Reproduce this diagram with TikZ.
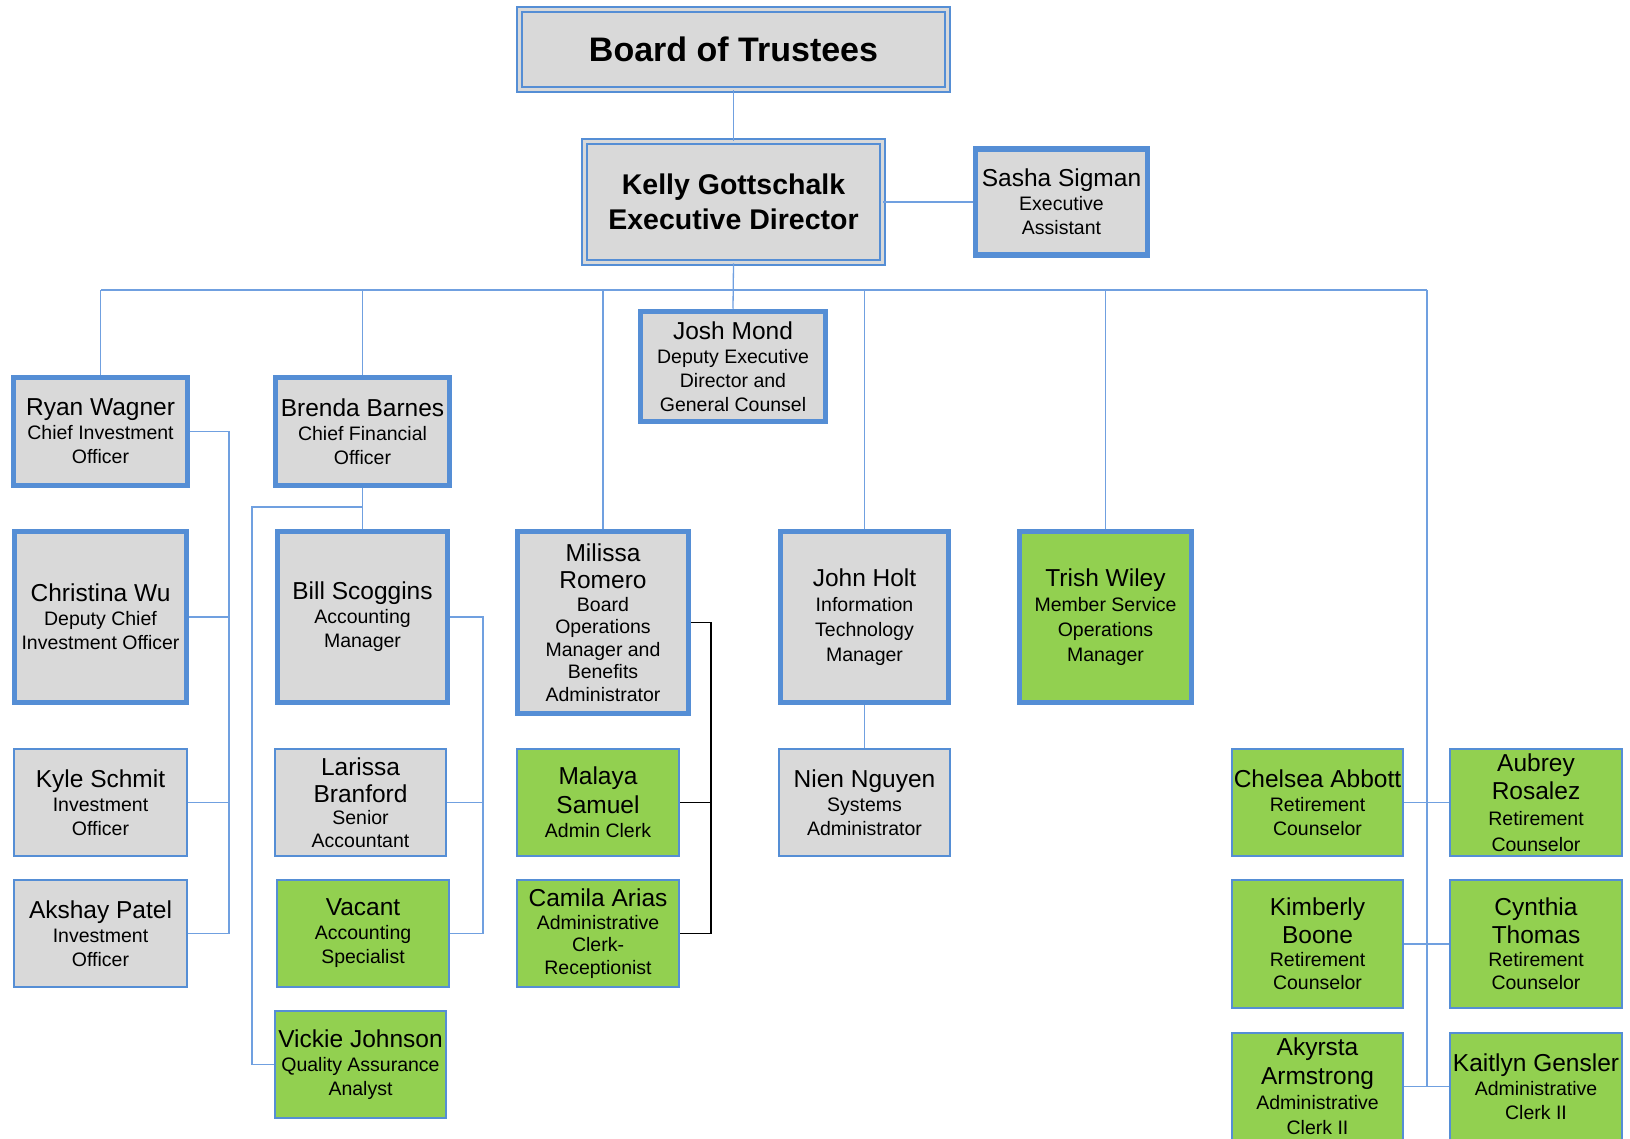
\documentclass[tikz,border=0pt]{standalone}
\usepackage{fontspec}
\setmainfont{Liberation Sans}
\usepackage{tikz}

\definecolor{boxblue}{RGB}{85,142,213}
\definecolor{lineblue}{RGB}{112,160,224}
\definecolor{boxgray}{RGB}{217,217,217}
\definecolor{boxgreen}{RGB}{146,208,80}

\newcommand{\nm}[1]{{\fontsize{24.5}{24}\selectfont #1}}

\tikzset{
  card/.style={draw=boxblue, fill=boxgray, line width=2pt, align=center, inner sep=0pt,
    font=\fontsize{19.5}{24}\selectfont},
  leadbox/.style={card, line width=5.5pt},
  greencard/.style={card, fill=boxgreen},
  greenlead/.style={leadbox, fill=boxgreen},
  headbox/.style={card, double=boxgray, double distance=3pt, line width=1.8pt},
  conn/.style={draw=lineblue, line width=1.3pt},
  blackconn/.style={draw=black, line width=1.3pt},
}

\begin{document}
\begin{tikzpicture}[x=1pt, y=-1pt]
  \useasboundingbox (0,0) rectangle (1630,1139);

  % board and director
  \node[headbox, minimum width=428pt, minimum height=80pt,
    font=\bfseries\fontsize{34}{34}\selectfont] (board) at (733.5,49.5) {Board of Trustees};
  \node[headbox, minimum width=298pt, minimum height=121pt,
    font=\bfseries\fontsize{28.5}{35}\selectfont] (kelly) at (733.5,202) {Kelly Gottschalk\\Executive Director};
  \node[leadbox, minimum width=172pt, minimum height=106pt] (sasha) at (1061.5,202)
    {\nm{Sasha Sigman}\\Executive\\Assistant};
  \node[leadbox, minimum width=185pt, minimum height=110pt] (josh) at (733,366.5)
    {\nm{Josh Mond}\\Deputy Executive\\Director and\\General Counsel};

  % department heads
  \node[leadbox, minimum width=174pt, minimum height=108pt] (ryan) at (100.5,431.5)
    {\nm{Ryan Wagner}\\Chief Investment\\Officer};
  \node[leadbox, minimum width=174pt, minimum height=108pt] (brenda) at (362.5,431.5)
    {\nm{Brenda Barnes}\\Chief Financial\\Officer};
  \node[leadbox, minimum width=172pt, minimum height=171pt] (christina) at (100.5,617)
    {\nm{Christina Wu}\\Deputy Chief\\Investment Officer};
  \node[leadbox, minimum width=170pt, minimum height=171pt] (bill) at (362.5,617)
    {\nm{Bill Scoggins}\\Accounting\\Manager};
  \node[leadbox, minimum width=171pt, minimum height=182pt,
    font=\fontsize{19.5}{22.5}\selectfont] (milissa) at (603,622.5)
    {\nm{Milissa}\\[5pt]\nm{Romero}\\Board\\Operations\\Manager and\\Benefits\\Administrator};
  \node[leadbox, minimum width=168pt, minimum height=171pt,
    font=\fontsize{19.5}{25}\selectfont] (john) at (864.5,617)
    {\nm{John Holt}\\Information\\Technology\\Manager};
  \node[greenlead, minimum width=172pt, minimum height=171pt,
    font=\fontsize{19.5}{25}\selectfont] (trish) at (1105.5,617)
    {\nm{Trish Wiley}\\Member Service\\Operations\\Manager};

  % staff
  \node[card, minimum width=173pt, minimum height=107pt] (kyle) at (100.5,802.5)
    {\nm{Kyle Schmit}\\Investment\\Officer};
  \node[card, minimum width=173pt, minimum height=107pt] (akshay) at (100.5,933.5)
    {\nm{Akshay Patel}\\Investment\\Officer};
  \node[card, minimum width=171pt, minimum height=107pt,
    font=\fontsize{19.5}{22.5}\selectfont] (larissa) at (360.5,802.5)
    {\nm{Larissa}\\[4pt]\nm{Branford}\\Senior\\Accountant};
  \node[greencard, minimum width=172pt, minimum height=107pt] (vacant) at (363,933.5)
    {\nm{Vacant}\\Accounting\\Specialist};
  \node[greencard, minimum width=171pt, minimum height=107pt] (vickie) at (360.5,1064.5)
    {\nm{Vickie Johnson}\\Quality Assurance\\Analyst};
  \node[greencard, minimum width=162pt, minimum height=107pt] (malaya) at (598,802.5)
    {\nm{Malaya}\\[5pt]\nm{Samuel}\\Admin Clerk};
  \node[greencard, minimum width=162pt, minimum height=107pt,
    font=\fontsize{19.5}{22.5}\selectfont] (camila) at (598,933.5)
    {\nm{Camila Arias}\\Administrative\\Clerk-\\Receptionist};
  \node[card, minimum width=171pt, minimum height=107pt] (nien) at (864.5,802.5)
    {\nm{Nien Nguyen}\\Systems\\Administrator};

  % member services
  \node[greencard, minimum width=171pt, minimum height=107pt] (chelsea) at (1317.5,802.5)
    {\nm{Chelsea Abbott}\\Retirement\\Counselor};
  \node[greencard, minimum width=172pt, minimum height=107pt,
    font=\fontsize{19.5}{26}\selectfont] (aubrey) at (1536,802.5)
    {\nm{Aubrey}\\[2pt]\nm{Rosalez}\\Retirement\\Counselor};
  \node[greencard, minimum width=171pt, minimum height=128pt,
    font=\fontsize{19.5}{23}\selectfont] (kimberly) at (1317.5,944)
    {\nm{Kimberly}\\[5pt]\nm{Boone}\\Retirement\\Counselor};
  \node[greencard, minimum width=172pt, minimum height=128pt,
    font=\fontsize{19.5}{23}\selectfont] (cynthia) at (1536,944)
    {\nm{Cynthia}\\[5pt]\nm{Thomas}\\Retirement\\Counselor};
  \node[greencard, minimum width=171pt, minimum height=107pt,
    font=\fontsize{19.5}{25}\selectfont] (akyrsta) at (1317.5,1086.5)
    {\nm{Akyrsta}\\[4pt]\nm{Armstrong}\\Administrative\\Clerk II};
  \node[greencard, minimum width=172pt, minimum height=107pt] (kaitlyn) at (1536,1086.5)
    {\nm{Kaitlyn Gensler}\\Administrative\\Clerk II};

  % top links
  \draw[conn] (board.south) -- (kelly.north);
  \draw[conn] (kelly.east) -- (sasha.west);
  \draw[conn] (kelly.south) -- (josh.north);

  % bus
  \coordinate (busL) at (101,290);
  \coordinate (busR) at (1427,290);
  \draw[conn] (busL) -- (busR);
  \foreach \n in {ryan, brenda, milissa, john, trish}
    \draw[conn] (\n.north |- busL) -- (\n.north);
  \draw[conn] (busR) -- (busR |- akyrsta.east);
  \foreach \a/\b in {chelsea/aubrey, kimberly/cynthia, akyrsta/kaitlyn}
    \draw[conn] (\a.east) -- (\b.west);

  % investments
  \coordinate (ryanbar) at (229,431.5);
  \draw[conn] (ryan.east) -- (ryanbar) |- (akshay.east);
  \foreach \n in {christina, kyle}
    \draw[conn] (\n.east) -- (\n.east -| ryanbar);

  % finance
  \coordinate (qabar) at (252,507);
  \draw[conn] (brenda.south) -- (bill.north);
  \draw[conn] (brenda.south |- qabar) -- (qabar) |- (vickie.west);
  \coordinate (billbar) at (483,617);
  \draw[conn] (bill.east) -- (billbar) |- (vacant.east);
  \draw[conn] (larissa.east) -- (larissa.east -| billbar);

  % board operations
  \coordinate (clerkbar) at (711,622.5);
  \draw[blackconn] (milissa.east) -- (clerkbar) |- (camila.east);
  \draw[blackconn] (malaya.east) -- (malaya.east -| clerkbar);

  % IT
  \draw[conn] (john.south) -- (nien.north);

\end{tikzpicture}
\end{document}
